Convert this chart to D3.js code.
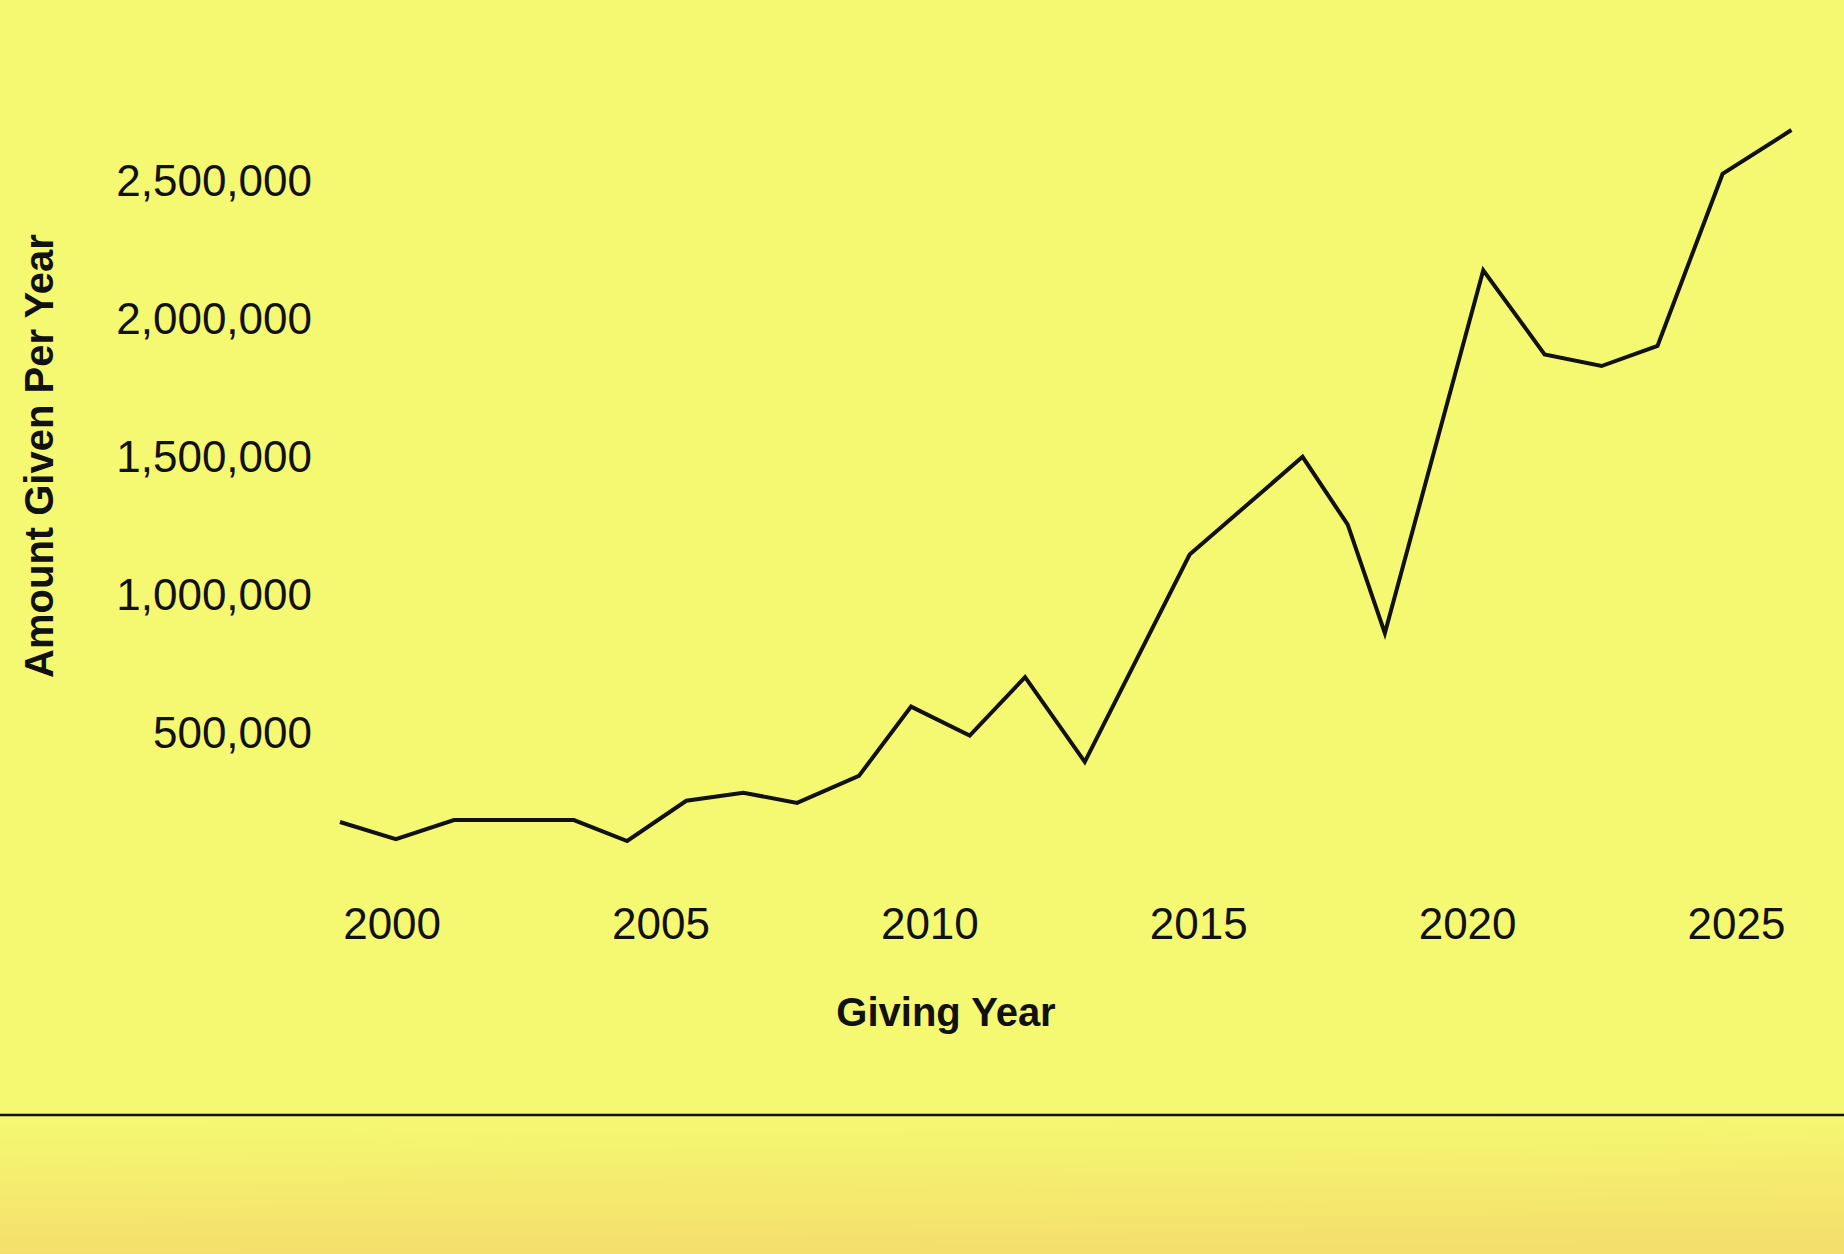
<!DOCTYPE html>
<html>
<head>
<meta charset="utf-8">
<script src="https://cdn.jsdelivr.net/npm/d3@7"></script>
<style>
  body { margin: 0; background: #f5f972; }
  svg { display: block; }
</style>
</head>
<body>
<div id="chart"></div>
<script>
// Giving year, as placed along the axis, and amount given that year
const givingYear = [1999.04, 2000.08, 2001.16, 2003.39, 2004.38, 2005.48, 2006.54, 2007.54,
    2008.69, 2009.66, 2010.75, 2011.78, 2012.89, 2014.84, 2016.94, 2017.78, 2018.47,
    2020.30, 2021.44, 2022.50, 2023.54, 2024.75, 2026.03];
const amountGiven = [174000, 112000, 181000, 181000, 105000, 251000, 280000, 243000,
    341000, 592000, 487000, 699000, 392000, 1143000, 1497000, 1251000, 858000,
    2173000, 1868000, 1826000, 1899000, 2522000, 2681000];

const yearTicks = [2000, 2005, 2010, 2015, 2020, 2025];
const amountTicks = [500000, 1000000, 1500000, 2000000, 2500000];

const width = 1844;
const height = 1254;
const font = "'Liberation Sans', Arial, Helvetica, sans-serif";

const svg = d3.select("#chart")
    .append("svg")
    .attr("width", width)
    .attr("height", height);

// Background and footer band
const grad = svg.append("defs").append("linearGradient")
    .attr("id", "footerGrad")
    .attr("x1", "0").attr("y1", "0")
    .attr("x2", "0.08").attr("y2", "1");
grad.append("stop").attr("offset", "0%").attr("stop-color", "#f5f972");
grad.append("stop").attr("offset", "100%").attr("stop-color", "#f4df6c");

svg.append("rect")
    .attr("width", width)
    .attr("height", height)
    .attr("fill", "#f5f972");

svg.append("rect")
    .attr("y", 1116)
    .attr("width", width)
    .attr("height", height - 1116)
    .attr("fill", "url(#footerGrad)");

svg.append("line")
    .attr("x1", 0).attr("x2", width)
    .attr("y1", 1115).attr("y2", 1115)
    .attr("stroke", "#111")
    .attr("stroke-width", 2.5);

// Scales
const x = d3.scaleLinear().domain([2000, 2025]).range([391.6, 1736]);
const y = d3.scaleLinear().domain([0, 2500000]).range([870, 180]);

// X axis
const xAxis = svg.append("g")
    .attr("transform", "translate(0,870)")
    .call(d3.axisBottom(x)
        .tickValues(yearTicks)
        .tickFormat(d3.format("d"))
        .tickSize(0)
        .tickPadding(38));
xAxis.select(".domain").remove();
xAxis.attr("font-size", 44).attr("font-family", font);
xAxis.selectAll("text").attr("fill", "#111");

// Y axis
const yAxis = svg.append("g")
    .attr("transform", "translate(330,0)")
    .call(d3.axisLeft(y)
        .tickValues(amountTicks)
        .tickFormat(d3.format(","))
        .tickSize(0)
        .tickPadding(18));
yAxis.select(".domain").remove();
yAxis.attr("font-size", 44).attr("font-family", font);
yAxis.selectAll("text").attr("fill", "#111").attr("dy", "0.36em");

// Axis titles
svg.append("text")
    .attr("x", 946)
    .attr("y", 1026)
    .attr("text-anchor", "middle")
    .attr("font-family", font)
    .attr("font-size", 40)
    .attr("font-weight", "bold")
    .attr("fill", "#111")
    .text("Giving Year");

svg.append("text")
    .attr("transform", "translate(53,456) rotate(-90)")
    .attr("text-anchor", "middle")
    .attr("font-family", font)
    .attr("font-size", 40)
    .attr("font-weight", "bold")
    .attr("fill", "#111")
    .text("Amount Given Per Year");

// The line
const line = d3.line()
    .x((d, i) => x(givingYear[i]))
    .y(d => y(d));

svg.append("path")
    .datum(amountGiven)
    .attr("fill", "none")
    .attr("stroke", "#111")
    .attr("stroke-width", 4)
    .attr("stroke-linejoin", "miter")
    .attr("d", line);
</script>
</body>
</html>
